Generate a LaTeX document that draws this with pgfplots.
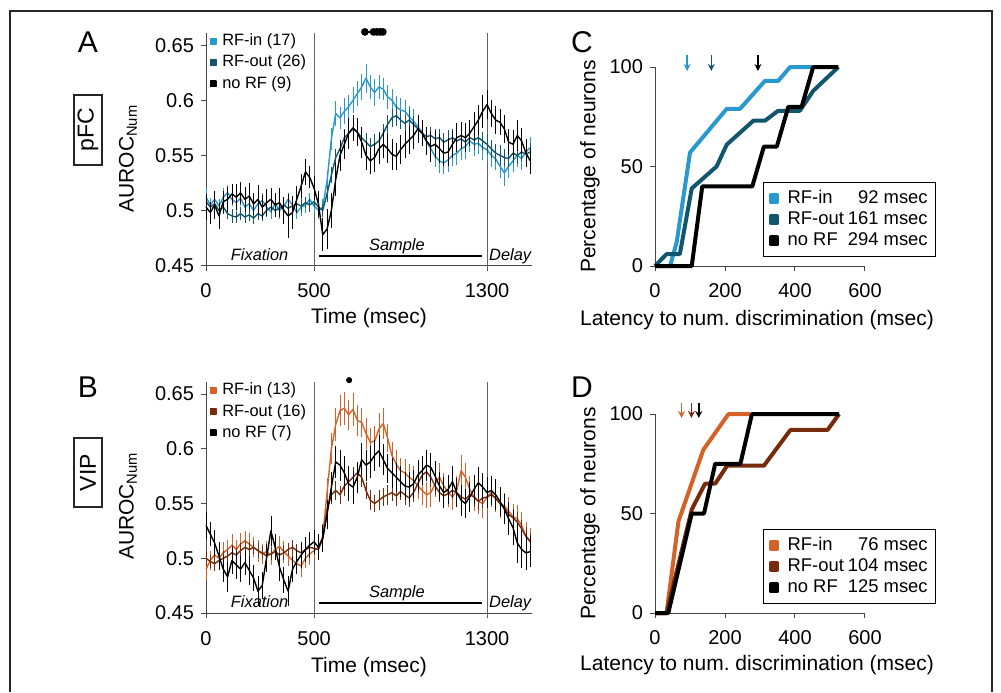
\documentclass[border=0pt]{standalone}
\usepackage{fontspec}
\setmainfont{Liberation Sans}
\usepackage{pgfplots}
\pgfplotsset{compat=1.18}
\usepackage{pgfplotstable}
\usetikzlibrary{arrows.meta}

\definecolor{cin}{RGB}{40,152,206}
\definecolor{cout}{RGB}{18,86,110}
\definecolor{oin}{RGB}{212,98,40}
\definecolor{oout}{RGB}{118,44,12}
\definecolor{axc}{RGB}{70,70,70}

\pgfplotstableread{
t    in     ein   out    eout   no     eno
0    0.512  0.008 0.508  0.006  0.503  0.012
20   0.505  0.006 0.503  0.005  0.498  0.010
40   0.510  0.007 0.506  0.006  0.505  0.013
60   0.504  0.006 0.500  0.005  0.495  0.012
80   0.512  0.008 0.503  0.006  0.508  0.010
100  0.516  0.007 0.497  0.005  0.510  0.011
120  0.510  0.006 0.495  0.006  0.515  0.009
140  0.507  0.008 0.494  0.005  0.512  0.012
160  0.511  0.007 0.497  0.006  0.516  0.010
180  0.503  0.006 0.494  0.005  0.510  0.011
200  0.506  0.007 0.496  0.006  0.513  0.012
220  0.500  0.006 0.493  0.005  0.506  0.010
240  0.506  0.008 0.497  0.006  0.510  0.013
260  0.509  0.007 0.495  0.005  0.503  0.011
280  0.503  0.006 0.500  0.006  0.507  0.012
300  0.499  0.007 0.503  0.005  0.510  0.010
320  0.506  0.006 0.500  0.006  0.505  0.011
340  0.500  0.008 0.502  0.005  0.507  0.013
360  0.504  0.007 0.505  0.006  0.500  0.012
380  0.510  0.006 0.502  0.005  0.495  0.020
400  0.505  0.007 0.504  0.006  0.498  0.015
420  0.498  0.006 0.506  0.005  0.510  0.012
440  0.503  0.008 0.504  0.006  0.522  0.011
460  0.505  0.007 0.507  0.005  0.535  0.012
480  0.510  0.006 0.505  0.006  0.530  0.010
500  0.504  0.007 0.508  0.005  0.520  0.011
520  0.500  0.008 0.503  0.006  0.506  0.012
540  0.503  0.007 0.500  0.006  0.478  0.015
560  0.527  0.009 0.515  0.007  0.483  0.018
580  0.565  0.010 0.532  0.007  0.500  0.016
600  0.588  0.011 0.548  0.008  0.528  0.015
620  0.584  0.010 0.556  0.008  0.550  0.014
640  0.590  0.012 0.566  0.008  0.560  0.013
660  0.594  0.011 0.570  0.009  0.570  0.014
680  0.600  0.012 0.574  0.008  0.575  0.012
700  0.606  0.011 0.571  0.008  0.571  0.013
720  0.612  0.012 0.566  0.009  0.562  0.014
740  0.620  0.013 0.562  0.008  0.550  0.013
760  0.612  0.011 0.558  0.008  0.545  0.012
780  0.607  0.012 0.560  0.009  0.548  0.013
800  0.612  0.011 0.563  0.008  0.556  0.014
820  0.610  0.010 0.570  0.008  0.560  0.012
840  0.603  0.011 0.578  0.009  0.556  0.013
860  0.600  0.010 0.584  0.008  0.551  0.014
880  0.594  0.010 0.586  0.009  0.549  0.012
900  0.591  0.011 0.582  0.008  0.555  0.013
920  0.590  0.010 0.579  0.008  0.560  0.012
940  0.585  0.010 0.582  0.009  0.564  0.013
960  0.581  0.011 0.578  0.008  0.568  0.012
980  0.576  0.010 0.574  0.008  0.574  0.013
1000 0.571  0.011 0.570  0.009  0.570  0.012
1020 0.562  0.010 0.567  0.008  0.563  0.013
1040 0.556  0.011 0.568  0.008  0.558  0.014
1060 0.549  0.010 0.565  0.009  0.560  0.012
1080 0.545  0.011 0.566  0.008  0.556  0.013
1100 0.543  0.010 0.562  0.008  0.552  0.012
1120 0.546  0.011 0.564  0.009  0.553  0.013
1140 0.550  0.010 0.566  0.008  0.560  0.012
1160 0.552  0.011 0.563  0.008  0.566  0.013
1180 0.556  0.010 0.565  0.009  0.568  0.012
1200 0.558  0.011 0.562  0.008  0.566  0.013
1220 0.563  0.010 0.566  0.008  0.570  0.012
1240 0.560  0.011 0.564  0.009  0.576  0.013
1260 0.561  0.010 0.566  0.008  0.582  0.014
1280 0.557  0.011 0.563  0.008  0.590  0.015
1300 0.555  0.010 0.560  0.009  0.596  0.013
1320 0.550  0.011 0.556  0.008  0.588  0.012
1340 0.547  0.010 0.552  0.008  0.582  0.013
1360 0.540  0.011 0.550  0.009  0.580  0.012
1380 0.534  0.012 0.548  0.008  0.574  0.013
1400 0.540  0.011 0.547  0.008  0.562  0.012
1420 0.545  0.010 0.552  0.009  0.560  0.013
1440 0.550  0.011 0.550  0.008  0.568  0.014
1460 0.547  0.010 0.553  0.008  0.563  0.012
1480 0.553  0.011 0.551  0.009  0.552  0.013
1500 0.557  0.010 0.553  0.008  0.545  0.012
}\tabA

\pgfplotstableread{
t    in    ein   out   eout  no    eno
0    0.490 0.010 0.500 0.007 0.530 0.012
20   0.498 0.009 0.497 0.006 0.522 0.011
40   0.503 0.010 0.495 0.007 0.514 0.012
60   0.500 0.009 0.498 0.006 0.502 0.013
80   0.505 0.010 0.500 0.007 0.490 0.012
100  0.508 0.009 0.502 0.006 0.483 0.014
120  0.512 0.010 0.505 0.007 0.498 0.012
140  0.508 0.009 0.503 0.006 0.494 0.013
160  0.513 0.010 0.507 0.007 0.490 0.012
180  0.516 0.009 0.510 0.006 0.496 0.011
200  0.513 0.010 0.508 0.007 0.489 0.013
220  0.510 0.009 0.510 0.006 0.482 0.012
240  0.507 0.010 0.507 0.007 0.470 0.014
260  0.504 0.009 0.505 0.006 0.475 0.012
280  0.506 0.010 0.502 0.007 0.500 0.013
300  0.503 0.009 0.504 0.006 0.525 0.014
320  0.508 0.010 0.506 0.007 0.510 0.012
340  0.511 0.009 0.503 0.006 0.492 0.013
360  0.506 0.010 0.505 0.007 0.480 0.012
380  0.502 0.009 0.508 0.006 0.470 0.014
400  0.498 0.010 0.510 0.007 0.490 0.012
420  0.495 0.009 0.507 0.006 0.497 0.011
440  0.493 0.010 0.505 0.007 0.503 0.012
460  0.500 0.009 0.508 0.006 0.508 0.011
480  0.504 0.010 0.510 0.007 0.512 0.012
500  0.507 0.009 0.509 0.006 0.515 0.011
520  0.510 0.010 0.508 0.007 0.510 0.012
540  0.520 0.011 0.518 0.007 0.518 0.012
560  0.560 0.013 0.545 0.008 0.540 0.013
580  0.600 0.014 0.558 0.008 0.565 0.014
600  0.622 0.015 0.562 0.009 0.588 0.015
620  0.635 0.014 0.558 0.008 0.585 0.014
640  0.637 0.015 0.566 0.009 0.578 0.015
660  0.631 0.014 0.570 0.008 0.568 0.016
680  0.636 0.015 0.574 0.009 0.565 0.015
700  0.626 0.014 0.578 0.008 0.574 0.014
720  0.624 0.013 0.574 0.009 0.590 0.015
740  0.614 0.014 0.562 0.008 0.585 0.014
760  0.606 0.013 0.553 0.009 0.588 0.015
780  0.607 0.014 0.550 0.008 0.594 0.014
800  0.618 0.015 0.553 0.009 0.598 0.015
820  0.623 0.014 0.556 0.008 0.590 0.014
840  0.610 0.013 0.558 0.009 0.582 0.013
860  0.594 0.012 0.560 0.008 0.578 0.014
880  0.586 0.013 0.557 0.009 0.574 0.013
900  0.580 0.012 0.561 0.008 0.570 0.014
920  0.578 0.013 0.558 0.009 0.566 0.013
940  0.574 0.012 0.555 0.008 0.565 0.014
960  0.571 0.013 0.560 0.009 0.568 0.013
980  0.566 0.012 0.568 0.008 0.576 0.014
1000 0.562 0.013 0.576 0.009 0.580 0.013
1020 0.558 0.012 0.579 0.008 0.585 0.014
1040 0.560 0.013 0.574 0.009 0.583 0.013
1060 0.568 0.012 0.566 0.008 0.575 0.014
1080 0.574 0.013 0.560 0.009 0.566 0.013
1100 0.566 0.012 0.557 0.008 0.560 0.014
1120 0.560 0.013 0.559 0.009 0.563 0.013
1140 0.556 0.012 0.562 0.008 0.570 0.014
1160 0.562 0.013 0.560 0.009 0.560 0.013
1180 0.580 0.014 0.556 0.008 0.553 0.014
1200 0.574 0.013 0.554 0.009 0.550 0.013
1220 0.563 0.012 0.558 0.008 0.556 0.014
1240 0.556 0.013 0.556 0.009 0.563 0.013
1260 0.552 0.012 0.552 0.008 0.569 0.014
1280 0.550 0.013 0.555 0.009 0.565 0.013
1300 0.556 0.012 0.556 0.008 0.560 0.014
1320 0.560 0.013 0.558 0.009 0.562 0.013
1340 0.554 0.012 0.555 0.008 0.558 0.014
1360 0.550 0.013 0.550 0.009 0.552 0.013
1380 0.548 0.012 0.546 0.008 0.545 0.014
1400 0.543 0.013 0.540 0.009 0.536 0.015
1420 0.538 0.012 0.537 0.008 0.528 0.016
1440 0.536 0.013 0.533 0.009 0.514 0.018
1460 0.530 0.012 0.527 0.008 0.508 0.017
1480 0.520 0.013 0.520 0.009 0.505 0.016
1500 0.516 0.012 0.515 0.008 0.506 0.014
}\tabB

\pgfplotsset{
  ts/.style={scale only axis, width=163pt, xmin=0, xmax=1508, ymin=0.45, ymax=0.661,
    axis lines=left, axis line style={-, draw=axc, line width=0.5pt},
    tick align=outside, major tick length=2.5pt, tick style={draw=axc, line width=0.5pt},
    xtick={0,500,1300}, xticklabels={0,500,1300},
    ytick={0.45,0.5,0.55,0.6,0.65}, yticklabels={0.45,0.5,0.55,0.6,0.65},
    tick label style={font=\fontsize{10}{12}\selectfont},
    xticklabel style={yshift=-3pt},
    label style={font=\fontsize{10.5}{12}\selectfont},
    xlabel={Time (msec)}, ylabel={AUROC\textsubscript{Num}},
    clip=false,
    legend style={draw=none, fill=none, at={(axis description cs:0.01,1.012)}, anchor=north west,
      font=\fontsize{8.2}{9.5}\selectfont, inner sep=0pt, row sep=0pt,
      nodes={inner sep=1.6pt},
      /tikz/every odd column/.append style={column sep=1.2pt}},
    legend cell align=left,
    legend image code/.code={\fill (0pt,-1.4pt) rectangle (2.8pt,1.4pt);},
  },
  cd/.style={scale only axis, width=105pt, height=99.5pt, xmin=0, xmax=600, ymin=0, ymax=100,
    axis lines=left, axis line style={-, draw=axc, line width=0.5pt},
    tick align=outside, major tick length=2.5pt, tick style={draw=axc, line width=0.5pt},
    xtick={0,200,400,600}, xticklabels={0,200,400,600},
    ytick={0,50,100}, yticklabels={0,50,100},
    tick label style={font=\fontsize{10}{12}\selectfont},
    xticklabel style={yshift=-2.5pt},
    label style={font=\fontsize{10.5}{12}\selectfont},
    xlabel={Latency to num.\ discrimination (msec)}, ylabel={Percentage of neurons},
    ylabel style={at={(axis description cs:-0.31,0.5)}, anchor=center},
    clip=false,
    legend style={at={(axis description cs:1.338,0.422)}, anchor=north east, draw=black,
      line width=0.7pt, fill=white, font=\fontsize{9.2}{10.5}\selectfont, inner sep=2.5pt,
      nodes={inner sep=1.3pt},
      /tikz/every odd column/.append style={column sep=2.8pt}},
    legend cell align=left,
    legend image code/.code={\fill (0pt,-1.7pt) rectangle (3.4pt,1.7pt);},
  },
}

\begin{document}
\begin{tikzpicture}
\useasboundingbox (0,0) rectangle (500.5pt,346pt);
\draw[line width=1pt, black!85] (5pt,0) -- (5pt,340.5pt) -- (495.75pt,340.5pt) -- (495.75pt,0);

% ---------- Panel A ----------
\begin{axis}[ts, height=116.25pt, at={(103pt,213.25pt)}, anchor=south west,
  xlabel style={at={(axis description cs:0.5,-0.226)}, anchor=center},
  ylabel style={at={(axis description cs:-0.239,0.46)}, anchor=center}]
\addplot[axc!85, line width=0.5pt, forget plot] coordinates {(500,0.4465) (500,0.661)};
\addplot[axc!85, line width=0.5pt, forget plot] coordinates {(1300,0.4465) (1300,0.661)};
\addplot[black, line width=0.7pt, forget plot] coordinates {(524,0.4585) (1278,0.4585)};
\addplot[cin, line width=0.7pt, line join=round, error bars/.cd, y dir=both, y explicit, error mark=none,
  error bar style={line width=0.35pt}] table[x=t, y=in, y error=ein] {\tabA};
\addlegendentry{RF-in (17)}
\addplot[cout, line width=0.7pt, line join=round, error bars/.cd, y dir=both, y explicit, error mark=none,
  error bar style={line width=0.35pt}] table[x=t, y=out, y error=eout] {\tabA};
\addlegendentry{RF-out (26)}
\addplot[black, line width=0.7pt, line join=round, error bars/.cd, y dir=both, y explicit, error mark=none,
  error bar style={line width=0.35pt}] table[x=t, y=no, y error=eno] {\tabA};
\addlegendentry{no RF (9)}
\addplot[black, line width=1.2pt, mark=*, mark size=1.3pt, forget plot] coordinates {(735,0.662) (775,0.662) (790,0.662) (805,0.662) (818,0.662)};
\node[font=\itshape\fontsize{8.2}{9}\selectfont] at (axis cs:248,0.4595) {Fixation};
\node[font=\itshape\fontsize{8.2}{9}\selectfont] at (axis cs:883,0.4673) {Sample};
\node[font=\itshape\fontsize{8.2}{9}\selectfont] at (axis cs:1407,0.4585) {Delay};
\end{axis}

% ---------- Panel B ----------
\begin{axis}[ts, height=115.5pt, at={(103pt,39.5pt)}, anchor=south west,
  xlabel style={at={(axis description cs:0.5,-0.234)}, anchor=center},
  ylabel style={at={(axis description cs:-0.239,0.463)}, anchor=center}]
\addplot[axc!85, line width=0.5pt, forget plot] coordinates {(500,0.4465) (500,0.661)};
\addplot[axc!85, line width=0.5pt, forget plot] coordinates {(1300,0.4465) (1300,0.661)};
\addplot[black, line width=0.7pt, forget plot] coordinates {(524,0.459) (1278,0.459)};
\addplot[oin, line width=0.7pt, line join=round, error bars/.cd, y dir=both, y explicit, error mark=none,
  error bar style={line width=0.35pt}] table[x=t, y=in, y error=ein] {\tabB};
\addlegendentry{RF-in (13)}
\addplot[oout, line width=0.7pt, line join=round, error bars/.cd, y dir=both, y explicit, error mark=none,
  error bar style={line width=0.35pt}] table[x=t, y=out, y error=eout] {\tabB};
\addlegendentry{RF-out (16)}
\addplot[black, line width=0.7pt, line join=round, error bars/.cd, y dir=both, y explicit, error mark=none,
  error bar style={line width=0.35pt}] table[x=t, y=no, y error=eno] {\tabB};
\addlegendentry{no RF (7)}
\addplot[black, only marks, mark=*, mark size=1.3pt, forget plot] coordinates {(662,0.6627)};
\node[font=\itshape\fontsize{8.2}{9}\selectfont] at (axis cs:248,0.46) {Fixation};
\node[font=\itshape\fontsize{8.2}{9}\selectfont] at (axis cs:883,0.468) {Sample};
\node[font=\itshape\fontsize{8.2}{9}\selectfont] at (axis cs:1407,0.459) {Delay};
\end{axis}

% ---------- Panel C ----------
\begin{axis}[cd, at={(327.5pt,213pt)}, anchor=south west,
  xlabel style={at={(axis description cs:0.486,-0.271)}, anchor=center}]
\addplot[cin, line width=2pt, line join=round] coordinates {(0,0) (43,0) (62,12) (100,57) (205,79) (243,79) (314,93) (352,93) (386,100) (452,100)};
\addlegendentry{\makebox[70pt][l]{RF-in\hfill 92 msec}}
\addplot[cout, line width=2pt, line join=round] coordinates {(0,0) (33,6) (71,6) (105,39) (176,50) (205,61) (281,73) (314,73) (352,78) (414,78) (452,88) (524,100)};
\addlegendentry{\makebox[70pt][l]{RF-out\hfill 161 msec}}
\addplot[black, line width=2pt, line join=round] coordinates {(0,0) (105,0) (135,40) (278,40) (311,60) (348,60) (381,80) (419,80) (452,100) (524,100)};
\addlegendentry{\makebox[70pt][l]{no RF\hfill 294 msec}}
\addplot[cin, line width=0.8pt, -{Stealth[length=3.5pt,width=3.5pt]}, quiver={u=0,v=-8}, forget plot] coordinates {(92,106)};
\addplot[cout, line width=0.8pt, -{Stealth[length=3.5pt,width=3.5pt]}, quiver={u=0,v=-8}, forget plot] coordinates {(161,106)};
\addplot[black, line width=0.8pt, -{Stealth[length=3.5pt,width=3.5pt]}, quiver={u=0,v=-8}, forget plot] coordinates {(294,106)};
\end{axis}

% ---------- Panel D ----------
\begin{axis}[cd, at={(327.5pt,39.5pt)}, anchor=south west,
  xlabel style={at={(axis description cs:0.486,-0.261)}, anchor=center}]
\addplot[oin, line width=2pt, line join=round] coordinates {(0,0) (33,0) (67,46) (138,82) (210,100) (272,100)};
\addlegendentry{\makebox[70pt][l]{RF-in\hfill 76 msec}}
\addplot[oout, line width=2pt, line join=round] coordinates {(0,0) (33,0) (105,52) (143,65) (172,65) (206,74) (311,74) (387,92) (493,92) (526,100)};
\addlegendentry{\makebox[70pt][l]{RF-out\hfill 104 msec}}
\addplot[black, line width=2pt, line join=round] coordinates {(0,0) (38,0) (105,50) (140,50) (172,75) (244,75) (277,100) (526,100)};
\addlegendentry{\makebox[70pt][l]{no RF\hfill 125 msec}}
\addplot[oin, line width=0.8pt, -{Stealth[length=3.5pt,width=3.5pt]}, quiver={u=0,v=-7.5}, forget plot] coordinates {(76,105.5)};
\addplot[oout, line width=0.8pt, -{Stealth[length=3.5pt,width=3.5pt]}, quiver={u=0,v=-7.5}, forget plot] coordinates {(104,105.5)};
\addplot[black, line width=0.8pt, -{Stealth[length=3.5pt,width=3.5pt]}, quiver={u=0,v=-7.5}, forget plot] coordinates {(125,105.5)};
\end{axis}

% ---------- panel letters and area boxes ----------
\node[font=\fontsize{15}{17}\selectfont] at (44pt,325pt) {A};
\node[font=\fontsize{15}{17}\selectfont] at (44pt,152.5pt) {B};
\node[font=\fontsize{15}{17}\selectfont] at (291pt,325pt) {C};
\node[font=\fontsize{15}{17}\selectfont] at (291pt,152.5pt) {D};
\node[draw=black!85, line width=0.6pt, rotate=90, minimum width=35pt, minimum height=14pt, inner sep=0pt,
  font=\fontsize{11.5}{13}\selectfont] at (44pt,281pt) {pFC};
\node[draw=black!85, line width=0.6pt, rotate=90, minimum width=34.5pt, minimum height=14pt, inner sep=0pt,
  font=\fontsize{11.5}{13}\selectfont] at (44pt,109.75pt) {VIP};
\end{tikzpicture}
\end{document}
